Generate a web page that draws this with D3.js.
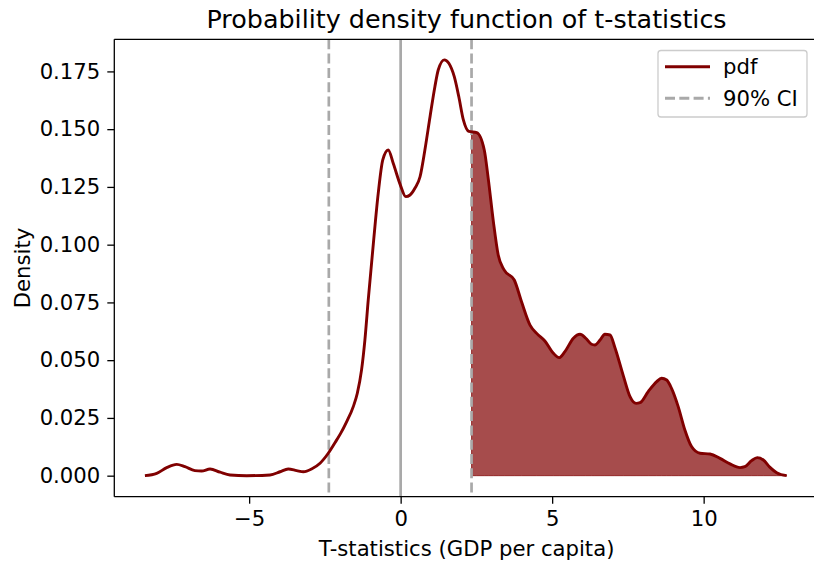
<!DOCTYPE html>
<html>
<head>
<meta charset="utf-8">
<script src="https://cdn.jsdelivr.net/npm/d3@7/dist/d3.min.js"></script>
<style>
  html, body { margin: 0; padding: 0; background: #fff; }
  svg { display: block; font-family: "DejaVu Sans", sans-serif; }
</style>
</head>
<body>
<svg id="chart" width="814" height="567"></svg>
<script>
// Kernel density estimate of t-statistics (GDP per capita)
const tValues = [
  -8.44, -8.05, -7.72, -7.39, -7.12, -6.79, -6.57, -6.29, -5.96, -5.63,
  -5.08, -4.31, -3.98, -3.71, -3.43, -3.21, -2.94, -2.66, -2.40, -2.11,
  -1.98, -1.78, -1.56, -1.43, -1.29, -1.18, -1.07, -0.90, -0.74, -0.59,
  -0.41, -0.24, -0.02, 0.17, 0.31, 0.47, 0.64, 0.80, 0.97, 1.13,
  1.24, 1.44, 1.59, 1.77, 1.92, 2.07, 2.25, 2.51, 2.76, 2.89,
  3.06, 3.22, 3.42, 3.75, 3.99, 4.27, 4.49, 4.76, 5.04, 5.23,
  5.42, 5.70, 5.92, 6.11, 6.30, 6.41, 6.58, 6.74, 6.91, 7.07,
  7.35, 7.57, 7.77, 7.90, 8.17, 8.45, 8.61, 8.78, 8.94, 9.16,
  9.38, 9.60, 9.88, 10.21, 10.54, 10.87, 11.20, 11.36, 11.58, 11.77,
  11.97, 12.19, 12.41, 12.74
];
const density = [
  0.0000, 0.0010, 0.0035, 0.0049, 0.0039, 0.0022, 0.0020, 0.0029, 0.0015, 0.0003,
  0.0000, 0.0003, 0.0017, 0.0029, 0.0022, 0.0017, 0.0029, 0.0054, 0.0095, 0.0155,
  0.0183, 0.0234, 0.0300, 0.0357, 0.0458, 0.0587, 0.0760, 0.1006, 0.1222, 0.1367,
  0.1410, 0.1350, 0.1262, 0.1208, 0.1215, 0.1244, 0.1294, 0.1410, 0.1554, 0.1684,
  0.1756, 0.1800, 0.1785, 0.1727, 0.1640, 0.1540, 0.1490, 0.1485, 0.1410, 0.1287,
  0.1100, 0.0955, 0.0890, 0.0847, 0.0753, 0.0652, 0.0616, 0.0583, 0.0530, 0.0511,
  0.0537, 0.0595, 0.0612, 0.0595, 0.0569, 0.0566, 0.0587, 0.0612, 0.0609, 0.0555,
  0.0432, 0.0342, 0.0313, 0.0316, 0.0364, 0.0407, 0.0422, 0.0414, 0.0378, 0.0299,
  0.0198, 0.0126, 0.0097, 0.0094, 0.0075, 0.0051, 0.0035, 0.0039, 0.0065, 0.0078,
  0.0068, 0.0036, 0.0013, 0.0000
];
// 90% confidence interval bounds
const ciBounds = [-2.37, 2.34];
const xTicks = [-5, 0, 5, 10];
const yTicks = [0, 0.025, 0.05, 0.075, 0.1, 0.125, 0.15, 0.175];
const legendLabels = ["pdf", "90% CI"];

const lineColor = "#800000";
const grayColor = "#a9a9a9";

const svg = d3.select("#chart");
const plot = { left: 114.3, right: 818.8, top: 39.3, bottom: 496.7 };

const x = d3.scaleLinear().domain([-9.45, 13.8]).range([plot.left, plot.right]);
const y = d3.scaleLinear().domain([-0.0091, 0.1889]).range([plot.bottom, plot.top]);

const pts = tValues.map((t, i) => ({ t, d: density[i] }));

// value of the curve at the upper CI bound, for the start of the shaded tail
const interp = d3.scaleLinear().domain(tValues).range(density);
const tail = [{ t: ciBounds[1], d: interp(ciBounds[1]) }]
  .concat(pts.filter(p => p.t > ciBounds[1]));

const g = svg.append("g");

// shaded upper tail
g.append("path")
  .datum(tail)
  .attr("d", d3.area().x(p => x(p.t)).y0(y(0)).y1(p => y(p.d)).curve(d3.curveMonotoneX))
  .attr("fill", lineColor)
  .attr("fill-opacity", 0.7)
  .attr("stroke", lineColor)
  .attr("stroke-opacity", 0.7)
  .attr("stroke-width", 1);

// zero line
g.append("line")
  .attr("x1", x(0)).attr("x2", x(0))
  .attr("y1", plot.top).attr("y2", plot.bottom)
  .attr("stroke", grayColor).attr("stroke-width", 2.7);

// CI bounds
g.selectAll("line.ci")
  .data(ciBounds)
  .join("line")
  .attr("class", "ci")
  .attr("x1", d => x(d)).attr("x2", d => x(d))
  .attr("y1", plot.top).attr("y2", plot.bottom)
  .attr("stroke", grayColor).attr("stroke-width", 2.7)
  .attr("stroke-dasharray", "10,4.3");

// density curve
g.append("path")
  .datum(pts)
  .attr("d", d3.line().x(p => x(p.t)).y(p => y(p.d)).curve(d3.curveMonotoneX))
  .attr("fill", "none")
  .attr("stroke", lineColor)
  .attr("stroke-width", 2.9)
  .attr("stroke-linejoin", "round");

// axes
const fontSize = "21.2px";
const xAxis = svg.append("g")
  .attr("transform", `translate(0,${plot.bottom})`)
  .call(d3.axisBottom(x).tickValues(xTicks).tickSize(7).tickPadding(7)
    .tickFormat(d => d < 0 ? "\u2212" + Math.abs(d) : String(d)));
const yAxis = svg.append("g")
  .attr("transform", `translate(${plot.left},0)`)
  .call(d3.axisLeft(y).tickValues(yTicks).tickSize(7).tickPadding(7).tickFormat(d3.format(".3f")));

[xAxis, yAxis].forEach(a => {
  a.select(".domain").remove();
  a.selectAll(".tick line").attr("stroke", "#000").attr("stroke-width", 1.3);
  a.selectAll(".tick text").attr("fill", "#000").style("font-size", fontSize)
    .style("font-family", "DejaVu Sans");
});

// spines (left, bottom, top; right edge lies beyond the canvas)
const spine = svg.append("g").attr("stroke", "#000").attr("stroke-width", 1.3).attr("fill", "none");
spine.append("line").attr("x1", plot.left).attr("x2", plot.left).attr("y1", plot.top).attr("y2", plot.bottom);
spine.append("line").attr("x1", plot.left).attr("x2", plot.right).attr("y1", plot.bottom).attr("y2", plot.bottom);
spine.append("line").attr("x1", plot.left).attr("x2", plot.right).attr("y1", plot.top).attr("y2", plot.top);
spine.append("line").attr("x1", plot.right).attr("x2", plot.right).attr("y1", plot.top).attr("y2", plot.bottom);

// title and axis labels
svg.append("text")
  .attr("x", (plot.left + plot.right) / 2).attr("y", 28)
  .attr("text-anchor", "middle").style("font-size", "25.4px").attr("fill", "#000")
  .text("Probability density function of t-statistics");

svg.append("text")
  .attr("x", (plot.left + plot.right) / 2).attr("y", 556)
  .attr("text-anchor", "middle").style("font-size", fontSize).attr("fill", "#000")
  .text("T-statistics (GDP per capita)");

svg.append("text")
  .attr("transform", `translate(30,${(plot.top + plot.bottom) / 2}) rotate(-90)`)
  .attr("text-anchor", "middle").style("font-size", fontSize).attr("fill", "#000")
  .text("Density");

// legend
const leg = svg.append("g");
leg.append("rect")
  .attr("x", 658).attr("y", 50.5).attr("width", 149).attr("height", 66.5)
  .attr("rx", 3).attr("fill", "#fff").attr("fill-opacity", 0.8)
  .attr("stroke", "#cccccc").attr("stroke-width", 1.3);
const rows = leg.selectAll("g.row").data(legendLabels).join("g")
  .attr("transform", (d, i) => `translate(0,${66.7 + i * 31.5})`);
rows.append("line")
  .attr("x1", 665).attr("x2", 710).attr("y1", 0).attr("y2", 0)
  .attr("stroke", (d, i) => i === 0 ? lineColor : grayColor)
  .attr("stroke-width", 2.9)
  .attr("stroke-dasharray", (d, i) => i === 0 ? null : "10,4.3");
rows.append("text")
  .attr("x", 723).attr("y", 0).attr("dy", "0.35em")
  .style("font-size", fontSize).attr("fill", "#000")
  .text(d => d);
</script>
</body>
</html>
